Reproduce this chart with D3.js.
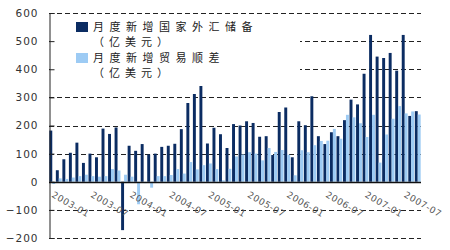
<!DOCTYPE html>
<html>
<head>
<meta charset="utf-8">
<script src="https://cdn.jsdelivr.net/npm/d3@7"></script>
<style>
  body { margin: 0; background: #fff; }
  #chart { width: 450px; height: 250px; }
</style>
</head>
<body>
<div id="chart"></div>
<script>
const months = [
  "2003-01","2003-02","2003-03","2003-04","2003-05","2003-06","2003-07","2003-08","2003-09","2003-10","2003-11","2003-12",
  "2004-01","2004-02","2004-03","2004-04","2004-05","2004-06","2004-07","2004-08","2004-09","2004-10","2004-11","2004-12",
  "2005-01","2005-02","2005-03","2005-04","2005-05","2005-06","2005-07","2005-08","2005-09","2005-10","2005-11","2005-12",
  "2006-01","2006-02","2006-03","2006-04","2006-05","2006-06","2006-07","2006-08","2006-09","2006-10","2006-11","2006-12",
  "2007-01","2007-02","2007-03","2007-04","2007-05","2007-06","2007-07","2007-08","2007-09"
]

// 月度新增国家外汇储备 (亿美元)
const reserves = [
  182, 41, 80, 103, 139, 67, 100, 87, 189, 170, 193, -172,
  128, 110, 134, 97, 100, 124, 128, 135, 187, 280, 312, 360,
  136, 192, 169, 120, 205, 200, 215, 209, 160, 162, 95, 248,
  264, 87, 215, 201, 304, 162, 134, 176, 162, 219, 292, 275,
  384, 522, 445, 440, 458, 395, 522, 234, 251
]

// 月度新增贸易顺差 (亿美元)
const tradeSurplus = [
  -8, 12, 10, 15, 20, 25, 20, 18, 20, 45, 40, 25,
  18, -80, -5, -21, 20, 20, 24, 45, 29, 70, 44, 59,
  65, 45, 5, 46, 90, 97, 105, 100, 76, 120, 106, 113,
  96, 23, 112, 105, 130, 145, 146, 188, 153, 238, 229, 208,
  159, 238, 68, 168, 224, 269, 243, 250, 239
]

const xTickLabels = ["2003-01","2003-07","2004-01","2004-07","2005-01","2005-07","2006-01","2006-07","2007-01","2007-07"]
const yTicks = [-200, -100, 0, 100, 200, 300, 400, 500, 600]

const seriesNames = ["月度新增国家外汇储备", "月度新增贸易顺差"]
const unitLabel = "（亿美元）"

const width = 450
const height = 250
const dark = "#0b2c62"
const light = "#9dcbf4"

const svg = d3.select("#chart")
  .append("svg")
  .attr("width", width)
  .attr("height", height)
  .style("display", "block")

const x = d3.scaleBand()
  .domain(months)
  .range([49, 421])
  .paddingInner(0.1)
  .paddingOuter(0.05)

const xSub = d3.scaleBand()
  .domain([0, 1])
  .range([0, x.bandwidth()])

const y = d3.scaleLinear()
  .domain([-200, 600])
  .range([238, 13])

// dashed grid
svg.append("g")
  .selectAll("line")
  .data(yTicks.filter(d => d !== 0))
  .enter()
  .append("line")
  .attr("x1", 49)
  .attr("x2", 421)
  .attr("y1", d => Math.round(y(d)) + 0.5)
  .attr("y2", d => Math.round(y(d)) + 0.5)
  .attr("stroke", "#222")
  .attr("stroke-width", 1)
  .attr("stroke-dasharray", "5,3")

// bars
const bars = svg.append("g")
const series = [reserves, tradeSurplus]
const colors = [dark, light]
series.forEach((vals, s) => {
  bars.selectAll(".s" + s)
    .data(vals)
    .enter()
    .append("rect")
    .attr("class", "s" + s)
    .attr("x", (d, i) => x(months[i]) + xSub(s))
    .attr("width", xSub.bandwidth())
    .attr("y", d => y(Math.max(0, d)))
    .attr("height", d => Math.abs(y(d) - y(0)))
    .attr("fill", colors[s])
})

// legend (white box hides the grid behind it)
const legend = svg.append("g")
legend.append("rect")
  .attr("x", 50).attr("y", 17)
  .attr("width", 250).attr("height", 69)
  .attr("fill", "#fff")

const legendRows = [
  { name: seriesNames[0], color: dark, y: 22 },
  { name: seriesNames[1], color: light, y: 53 }
]
legendRows.forEach(r => {
  legend.append("rect")
    .attr("x", 76).attr("y", r.y)
    .attr("width", 12).attr("height", 10)
    .attr("fill", r.color)
  legend.append("text")
    .attr("x", 93).attr("y", r.y + 9)
    .style("font-family", "'Noto Sans CJK SC', sans-serif")
    .style("font-size", "11px")
    .style("letter-spacing", "5.5px")
    .attr("fill", "#222")
    .text(r.name)
  legend.append("text")
    .attr("x", 93).attr("y", r.y + 24)
    .style("font-family", "'Noto Sans CJK SC', sans-serif")
    .style("font-size", "11px")
    .style("letter-spacing", "5px")
    .attr("fill", "#222")
    .text(unitLabel)
})

// y axis
const yAxis = svg.append("g")
  .attr("transform", "translate(49.5,0)")
  .call(d3.axisLeft(y).tickValues(yTicks).tickSize(-5).tickPadding(11).tickFormat(d3.format("d")))
yAxis.select(".domain").attr("stroke", "#222")
yAxis.selectAll(".tick line").attr("stroke", "#222")
yAxis.selectAll("text")
  .style("font-family", "'DejaVu Sans', sans-serif")
  .style("font-size", "10.5px")
  .style("letter-spacing", "1px")
  .attr("fill", "#333")

// zero line
svg.append("line")
  .attr("x1", 49).attr("x2", 421)
  .attr("y1", Math.round(y(0)) + 0.5).attr("y2", Math.round(y(0)) + 0.5)
  .attr("stroke", "#111")
  .attr("stroke-width", 1.5)

// x labels, rotated
svg.append("g")
  .selectAll("text")
  .data(xTickLabels)
  .enter()
  .append("text")
  .attr("transform", d => `translate(${x(d) + 5},${y(0) + 9}) rotate(30)`)
  .attr("dy", "0.75em")
  .style("font-family", "'DejaVu Sans', sans-serif")
  .style("font-size", "9px")
  .style("letter-spacing", "0.6px")
  .attr("fill", "#555")
  .text(d => d)
</script>
</body>
</html>
